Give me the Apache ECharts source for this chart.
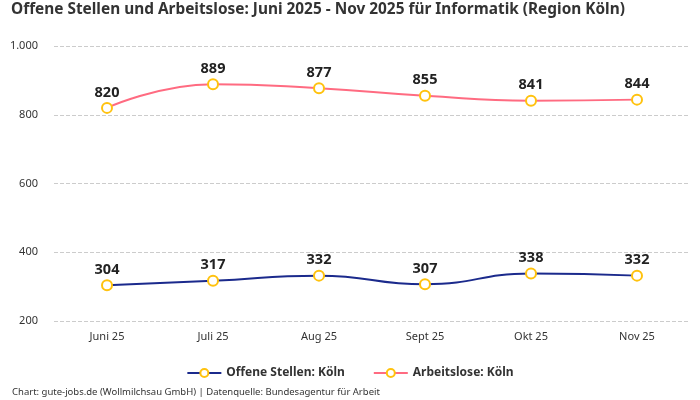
<!DOCTYPE html>
<html><head><meta charset="utf-8">
<script src="https://cdn.jsdelivr.net/npm/echarts@6/dist/echarts.min.js"></script>
<style>html,body{margin:0;padding:0;background:#fff}#c{width:700px;height:400px}</style>
</head><body><div id="c"></div>
<script>
const categories = ['Juni 25','Juli 25','Aug 25','Sept 25','Okt 25','Nov 25'];
const offeneStellen = [304, 317, 332, 307, 338, 332];
const arbeitslose = [820, 889, 877, 855, 841, 844];
const seriesNames = ['Offene Stellen: Köln','Arbeitslose: Köln'];
const titleText = 'Offene Stellen und Arbeitslose: Juni 2025 - Nov 2025 für Informatik (Region Köln)';
const footerText = 'Chart: gute-jobs.de (Wollmilchsau GmbH) | Datenquelle: Bundesagentur für Arbeit';

const font = 'Noto Sans';
const chart = echarts.init(document.getElementById('c'));
function mk(name, data, color){
  return {
    name, type:'line', data, smooth:true, symbol:'circle', symbolSize:10,
    color,
    lineStyle:{color, width:2},
    itemStyle:{color:'#fff', borderColor:'#FFC20E', borderWidth:2},
    label:{show:true, position:'top', distance:2, color:'#222', fontWeight:'bold', fontSize:14.5, fontFamily:font},
    z:3
  };
}
chart.setOption({
  animation:false,
  textStyle:{fontFamily:font},
  title:[{text:titleText, left:6, top:-3, textStyle:{fontSize:15.4, fontWeight:'bold', color:'#333', fontFamily:font}},
         {text:footerText, left:7, top:382, textStyle:{fontSize:9.5, fontWeight:'normal', color:'#333', fontFamily:font}}],
  legend:{top:362, left:'center', itemGap:28, itemWidth:34, itemHeight:10,
    textStyle:{fontSize:12, fontWeight:'bold', color:'#333', fontFamily:font},
    data:seriesNames},
  grid:{left:54, right:10, top:46, bottom:79},
  xAxis:{type:'category', data:categories, boundaryGap:true,
    axisLine:{show:false}, axisTick:{show:false},
    axisLabel:{color:'#333', fontSize:11, margin:10, fontFamily:font}},
  yAxis:{type:'value', min:200, max:1000, interval:200,
    axisLabel:{color:'#333', fontSize:11, margin:16, fontFamily:font,
      formatter:v=>v.toLocaleString('de-DE')},
    splitLine:{lineStyle:{type:'dashed', color:'#ccc'}}},
  series:[mk(seriesNames[0], offeneStellen, '#1B2A8C'), mk(seriesNames[1], arbeitslose, '#FF6B81')]
});
</script></body></html>
